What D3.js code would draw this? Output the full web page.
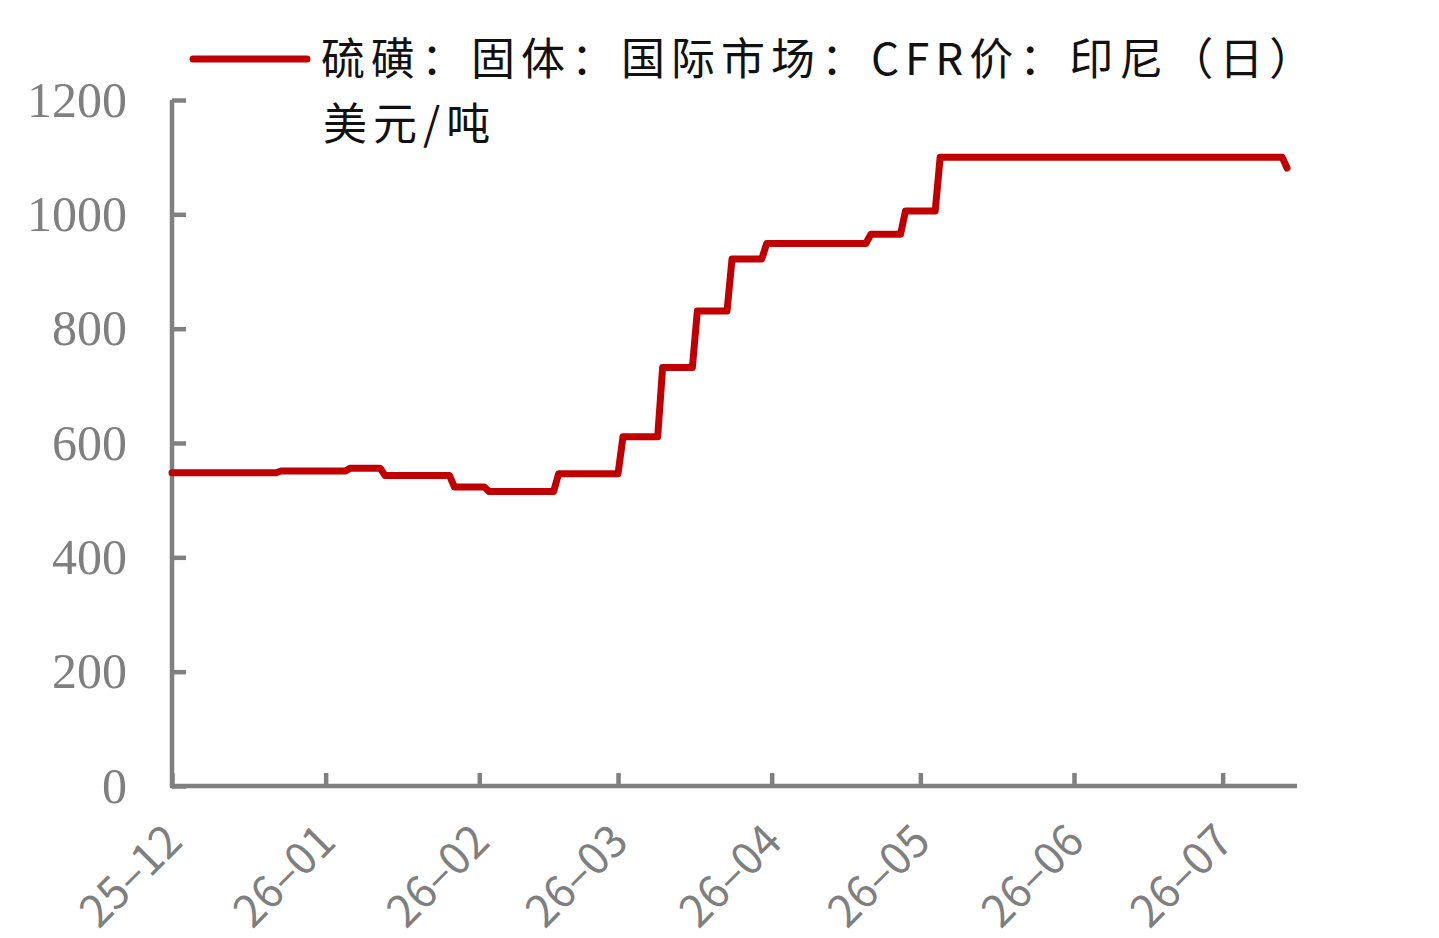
<!DOCTYPE html>
<html>
<head>
<meta charset="utf-8">
<script src="https://cdn.jsdelivr.net/npm/d3@7"></script>
<style>
  html, body { margin: 0; padding: 0; background: #fff; }
  svg { display: block; }
  .ytick text { font-family: "Liberation Serif", "DejaVu Serif", serif; fill: #7f7f7f; }
  .xtick text { font-family: "Noto Sans CJK SC", "Noto Sans", sans-serif; fill: #7f7f7f; }
  .legend text { font-family: "Noto Sans CJK SC", sans-serif; fill: #111; }
</style>
</head>
<body>
<svg id="chart" width="1439" height="938"></svg>
<script>
const obsDates = [
  '2025-12-01', '2025-12-22', '2025-12-23', '2026-01-05', '2026-01-06', '2026-01-12',
  '2026-01-13', '2026-01-26', '2026-01-27', '2026-02-02', '2026-02-03', '2026-02-16',
  '2026-02-17', '2026-03-01', '2026-03-02', '2026-03-09', '2026-03-10', '2026-03-16',
  '2026-03-17', '2026-03-23', '2026-03-24', '2026-03-30', '2026-03-31', '2026-04-20',
  '2026-04-21', '2026-04-27', '2026-04-28', '2026-05-04', '2026-05-05', '2026-07-13',
  '2026-07-14'
];
const obsValues = [
  548, 548, 551, 551, 556, 556,
  543, 543, 523, 523, 515, 515,
  546, 546, 611, 611, 732, 732,
  831, 831, 922, 922, 949, 949,
  965, 965, 1006, 1006, 1100, 1100,
  1081
];
const xTickDates = ['2025-12-01', '2026-01-01', '2026-02-01', '2026-03-01', '2026-04-01', '2026-05-01', '2026-06-01', '2026-07-01'];
const xTickLabels = ['25–12', '26–01', '26–02', '26–03', '26–04', '26–05', '26–06', '26–07'];
const yTicks = [0, 200, 400, 600, 800, 1000, 1200];
const legendLine1 = '硫磺：固体：国际市场：CFR价：印尼（日）';
const legendLine2 = '美元/吨';

const parse = d3.utcParse('%Y-%m-%d');
const data = obsDates.map((d, i) => ({ date: parse(d), value: obsValues[i] }));

const svg = d3.select('#chart');
const axisColor = '#808080';
const lineColor = '#c00000';

const x = d3.scaleUtc()
  .domain([parse('2025-12-01'), parse('2026-07-16')])
  .range([172, 1297]);
const y = d3.scaleLinear().domain([0, 1200]).range([786, 100]);

// y axis
const yAxis = svg.append('g')
  .attr('class', 'ytick')
  .attr('transform', `translate(${x.range()[0]},0)`)
  .call(d3.axisLeft(y).tickValues(yTicks).tickSize(-14).tickPadding(45).tickFormat(d3.format('d')));
yAxis.select('.domain').attr('stroke', axisColor).attr('stroke-width', 4.5)
  .attr('d', `M0,${y(1200)}V${y(0)}`);
yAxis.selectAll('.tick line').attr('stroke', axisColor).attr('stroke-width', 4.5);
yAxis.selectAll('.tick text').attr('font-size', 50).attr('dy', '0.32em');

// x axis
const xAxis = svg.append('g')
  .attr('class', 'xtick')
  .attr('transform', `translate(0,${y(0)})`)
  .call(d3.axisBottom(x).tickValues(xTickDates.map(parse)).tickSize(-13)
    .tickFormat((d, i) => xTickLabels[i]));
xAxis.select('.domain').attr('stroke', axisColor).attr('stroke-width', 4.5)
  .attr('d', `M${x.range()[0] - 2},0H${x.range()[1]}`);
xAxis.selectAll('.tick line').attr('stroke', axisColor).attr('stroke-width', 4.5);
xAxis.selectAll('.tick text')
  .attr('font-size', 44)
  .attr('text-anchor', 'end')
  .attr('y', 0).attr('dy', 0)
  .attr('transform', 'translate(12,58) rotate(-45)');

// series
const line = d3.line().x(d => x(d.date)).y(d => y(d.value));
svg.append('path')
  .datum(data)
  .attr('fill', 'none')
  .attr('stroke', lineColor)
  .attr('stroke-width', 7)
  .attr('stroke-linejoin', 'round')
  .attr('stroke-linecap', 'round')
  .attr('d', line);

// legend
const legend = svg.append('g').attr('class', 'legend');
legend.append('line')
  .attr('x1', 193).attr('x2', 307).attr('y1', 59).attr('y2', 59)
  .attr('stroke', lineColor).attr('stroke-width', 7).attr('stroke-linecap', 'round');
legend.append('text').attr('x', 321).attr('y', 75)
  .attr('font-size', 44).attr('letter-spacing', 6).text(legendLine1);
legend.append('text').attr('x', 323).attr('y', 140)
  .attr('font-size', 44).attr('letter-spacing', 6).text(legendLine2);
</script>
</body>
</html>
